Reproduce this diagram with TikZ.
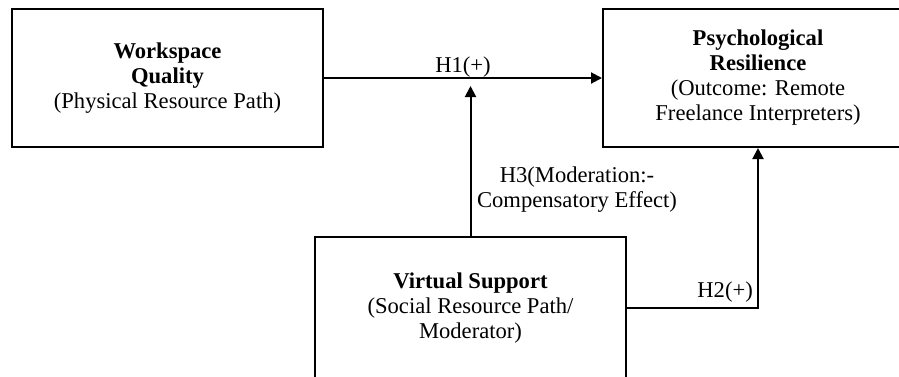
\documentclass[tikz,border=0pt]{standalone}
\usepackage{fontspec}
\setmainfont{Liberation Serif}
\usetikzlibrary{arrows.meta}
\tikzset{
  box/.style={draw=black, line width=2pt, rectangle, align=center, inner sep=0pt,
    font=\fontsize{22.6}{25}\selectfont},
  lbl/.style={align=center, inner sep=0pt, font=\fontsize{22.6}{25}\selectfont},
  conn/.style={line width=2pt, -{Triangle[length=11pt,width=11pt]}}
}
\begin{document}
\begin{tikzpicture}[x=1pt,y=-1pt]
\useasboundingbox (0,0) rectangle (899,376);
\clip (0,0) rectangle (899,376);
\fill[white] (0,0) rectangle (899,376);
\node[box, minimum width=311pt, minimum height=138pt] (wq) at (167.5,78)
  {\textbf{Workspace}\\\textbf{Quality}\\(Physical Resource Path)};
\node[box, minimum width=310pt, minimum height=138pt] (pr) at (758,78)
  {\textbf{Psychological}\\\textbf{Resilience}\\(Outcome: Remote\\Freelance Interpreters)};
\node[box, minimum width=311pt, minimum height=142pt] (vs) at (470.5,308)
  {\textbf{Virtual Support}\\(Social Resource Path/\\Moderator)};
\coordinate (h3end) at (470.5,86);
\draw[conn] (wq.east) -- (pr.west);
\draw[conn] (vs.north) -- (h3end);
\draw[conn] (vs.east) -| (pr.south);
\node[lbl, anchor=base] (h1) at (463,72) {H1(+)};
\node[lbl] (h3) at (577,190) {H3(Moderation:-\\Compensatory Effect)};
\node[lbl, anchor=base east] (h2) at (753,297) {H2(+)};
\end{tikzpicture}
\end{document}
